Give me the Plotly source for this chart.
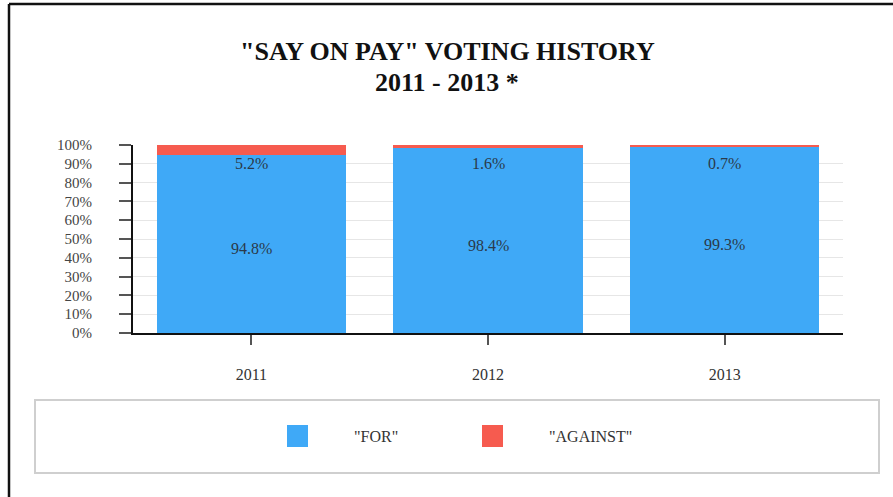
import plotly.graph_objects as go

years = ["2011", "2012", "2013"]
for_pct = [94.8, 98.4, 99.3]
against_pct = [5.2, 1.6, 0.7]
series_names = ['"FOR"', '"AGAINST"']
y_ticks = [0, 10, 20, 30, 40, 50, 60, 70, 80, 90, 100]
title_lines = ['"SAY ON PAY" VOTING HISTORY', '2011 - 2013 *']

BLUE = "#3fa9f7"
RED = "#f65b4f"
SERIF = "Liberation Serif, Times New Roman, serif"
LABEL_FONT = dict(family=SERIF, size=16, color="#2b3a4a")

fig = go.Figure()
fig.add_trace(go.Bar(
    x=years, y=for_pct, name=series_names[0], marker_color=BLUE,
    marker_line_width=0, showlegend=False,
))
fig.add_trace(go.Bar(
    x=years, y=against_pct, name=series_names[1], marker_color=RED,
    marker_line_width=0, showlegend=False,
))

# value labels
for i, (f, a) in enumerate(zip(for_pct, against_pct)):
    fig.add_annotation(x=i, y=f / 2, xref="x", yref="y", text=f"{f}%",
                       showarrow=False, yanchor="middle", yshift=-5,
                       font=LABEL_FONT)
    fig.add_annotation(x=i, y=100, xref="x", yref="y", text=f"{a}%",
                       showarrow=False, yanchor="top", yshift=-8,
                       font=LABEL_FONT)

def px_x(p):
    return (p - 133) / 710.0

def px_y(p):
    return (333 - p) / 188.0

# title lines centred on the page
for line, cy in zip(title_lines, [52, 82]):
    fig.add_annotation(x=px_x(447), y=px_y(cy), xref="paper", yref="paper",
                       text=f"<b>{line}</b>", showarrow=False,
                       xanchor="center", yanchor="middle",
                       font=dict(family=SERIF, size=26, color="#111111"))

# manual legend (box + swatches + labels)
shapes = []
shapes.append(dict(type="rect", xref="paper", yref="paper",
                   x0=px_x(35), x1=px_x(879), y0=px_y(473), y1=px_y(400),
                   line=dict(color="#cfcfcf", width=2), fillcolor="rgba(0,0,0,0)"))
swatches = [(287, BLUE, 352), (482, RED, 547)]
for (sx, col, tx), name in zip(swatches, series_names):
    shapes.append(dict(type="rect", xref="paper", yref="paper",
                       x0=px_x(sx), x1=px_x(sx + 21), y0=px_y(447), y1=px_y(425),
                       line=dict(width=0), fillcolor=col))
    fig.add_annotation(x=px_x(tx), y=px_y(436), xref="paper", yref="paper",
                       text=name, showarrow=False, xanchor="left", yanchor="middle",
                       font=dict(family=SERIF, size=16, color="#333333"))

# outer frame lines (top and left)
shapes.append(dict(type="line", xref="paper", yref="paper",
                   x0=px_x(9), x1=px_x(893), y0=px_y(4), y1=px_y(4),
                   line=dict(color="#111111", width=2.5)))
shapes.append(dict(type="line", xref="paper", yref="paper",
                   x0=px_x(9), x1=px_x(9), y0=px_y(4), y1=px_y(497),
                   line=dict(color="#111111", width=2.5)))

fig.update_layout(
    width=893, height=497,
    barmode="stack", bargap=0.2,
    margin=dict(l=133, r=50, t=145, b=164),
    paper_bgcolor="white", plot_bgcolor="white",
    shapes=shapes,
    showlegend=False,
)
fig.update_xaxes(
    type="category", range=[-0.5, 2.5], showline=True, linecolor="#111111", linewidth=2,
    ticks="outside", ticklen=10, tickcolor="#555555", tickwidth=1.5,
    ticklabelstandoff=16, showgrid=False,
    tickfont=dict(family=SERIF, size=16, color="#333333"),
)
fig.update_yaxes(
    range=[0, 100], tickvals=y_ticks, ticktext=[f"{v}%" for v in y_ticks],
    showline=True, linecolor="#111111", linewidth=2,
    ticks="outside", ticklen=12, tickcolor="#555555", tickwidth=1.5,
    ticklabelstandoff=24, showgrid=True, gridcolor="#e6e6e6", gridwidth=1,
    zeroline=False,
    tickfont=dict(family=SERIF, size=15, color="#444444"),
)

fig.write_html("out.html", config={"displayModeBar": False},
               post_script="document.body.style.margin='0';document.body.style.overflow='hidden';")
